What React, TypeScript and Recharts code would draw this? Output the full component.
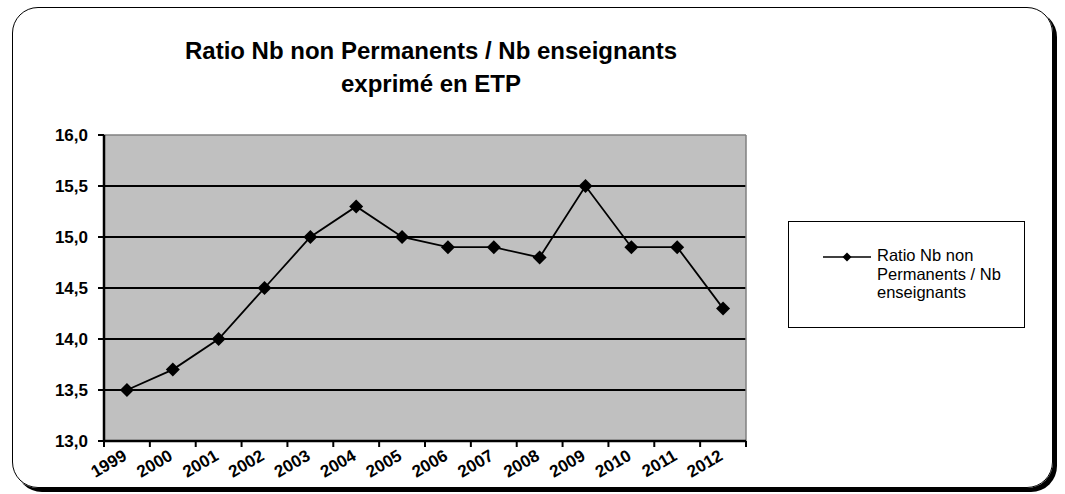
import {
  CartesianGrid,
  Legend,
  Line,
  LineChart,
  ReferenceLine,
  XAxis,
  YAxis,
} from 'recharts'

const years = ['1999', '2000', '2001', '2002', '2003', '2004', '2005', '2006', '2007', '2008', '2009', '2010', '2011', '2012']
const ratios = [13.5, 13.7, 14.0, 14.5, 15.0, 15.3, 15.0, 14.9, 14.9, 14.8, 15.5, 14.9, 14.9, 14.3]
const yTicks = [13, 13.5, 14, 14.5, 15, 15.5, 16]
const gridValues = [13.5, 14, 14.5, 15, 15.5]
const titleLines = ['Ratio Nb non Permanents / Nb enseignants', 'exprimé en ETP']
const legendLines = ['Ratio Nb non', 'Permanents / Nb', 'enseignants']
const seriesName = 'Ratio Nb non Permanents / Nb enseignants'

// x = index + 0.5 so points sit in the middle of each year slot, ticks on the slot edges
const chartData = years.map((year, i) => ({ x: i + 0.5, year, ratio: ratios[i] }))
const xTicks = Array.from({ length: years.length * 2 + 1 }, (_, i) => i / 2)

const FONT = 'Arial, "Liberation Sans", sans-serif'
const MARKER = 7

function YearTick({ x, y, payload }: any) {
  const v = payload.value
  if (Number.isInteger(v)) {
    return <line x1={x} y1={y} x2={x} y2={y + 6} stroke="#000" strokeWidth={2} />
  }
  const label = years[Math.floor(v)]
  const tx = x + 1
  const ty = y + 18
  return (
    <text
      x={tx}
      y={ty}
      transform={`rotate(-30 ${tx} ${ty})`}
      textAnchor="end"
      fontFamily={FONT}
      fontWeight="bold"
      fontSize={17}
      fill="#000"
    >
      {label}
    </text>
  )
}

function Diamond({ cx, cy }: any) {
  if (cx == null || cy == null) return null
  const r = MARKER
  return <path d={`M${cx},${cy - r}L${cx + r},${cy}L${cx},${cy + r}L${cx - r},${cy}Z`} fill="#000" />
}

function LegendBox() {
  return (
    <div
      style={{
        width: 237,
        height: 107,
        border: '1.5px solid #000',
        boxSizing: 'border-box',
        background: '#fff',
        position: 'relative',
        fontFamily: FONT,
        fontSize: 16.5,
        color: '#000',
      }}
    >
      <svg width={60} height={20} style={{ position: 'absolute', left: 32, top: 25 }}>
        <line x1={2} y1={10} x2={50} y2={10} stroke="#000" strokeWidth={1.5} />
        <path d="M26,5.5L30.5,10L26,14.5L21.5,10Z" fill="#000" />
      </svg>
      <div style={{ position: 'absolute', left: 88, top: 24, lineHeight: '18.5px' }}>
        {legendLines.map((l) => (
          <div key={l}>{l}</div>
        ))}
      </div>
    </div>
  )
}

export default function App() {
  return (
    <div style={{ position: 'absolute', left: 0, top: 0, width: 1065, height: 494, background: '#fff' }}>
      <div
        style={{
          position: 'absolute',
          left: 12,
          top: 7,
          width: 1041,
          height: 481,
          border: '1.5px solid #000',
          borderRadius: 26,
          boxShadow: '4px 4px 0 #000',
          boxSizing: 'border-box',
        }}
      />
      <div
        style={{
          position: 'absolute',
          left: 131,
          top: 34,
          width: 600,
          textAlign: 'center',
          fontFamily: FONT,
          fontWeight: 'bold',
          fontSize: 24,
          lineHeight: '33px',
          color: '#000',
        }}
      >
        {titleLines.map((l) => (
          <div key={l}>{l}</div>
        ))}
      </div>
      <div style={{ position: 'absolute', left: 0, top: 0 }}>
        <LineChart
          width={1065}
          height={494}
          data={chartData}
          margin={{ top: 135, right: 319, bottom: 8, left: 44 }}
        >
          <CartesianGrid
            vertical={false}
            horizontalValues={gridValues}
            stroke="#000"
            strokeWidth={2}
            fill="#c0c0c0"
            fillOpacity={1}
          />
          <ReferenceLine y={16} stroke="#808080" strokeWidth={1.5} />
          <ReferenceLine x={14} stroke="#808080" strokeWidth={1.5} />
          <XAxis
            dataKey="x"
            type="number"
            domain={[0, 14]}
            ticks={xTicks}
            interval={0}
            tickLine={false}
            tickSize={0}
            tickMargin={0}
            height={45}
            axisLine={{ stroke: '#000', strokeWidth: 2.5 }}
            tick={<YearTick />}
          />
          <YAxis
            domain={[13, 16]}
            ticks={yTicks}
            interval={0}
            width={60}
            tickSize={6}
            tickMargin={10}
            axisLine={{ stroke: '#000', strokeWidth: 2.5 }}
            tickLine={{ stroke: '#000', strokeWidth: 2 }}
            tickFormatter={(v: number) => v.toFixed(1).replace('.', ',')}
            tick={{ fill: '#000', fontFamily: FONT, fontWeight: 'bold', fontSize: 17 }}
          />
          <Legend
            layout="vertical"
            align="center"
            verticalAlign="middle"
            content={() => <LegendBox />}
            wrapperStyle={{ position: 'absolute', left: 788, top: 221, width: 237, height: 107 }}
          />
          <Line
            type="linear"
            dataKey="ratio"
            name={seriesName}
            stroke="#000"
            strokeWidth={1.8}
            dot={<Diamond />}
            activeDot={false}
            isAnimationActive={false}
          />
        </LineChart>
      </div>
    </div>
  )
}
